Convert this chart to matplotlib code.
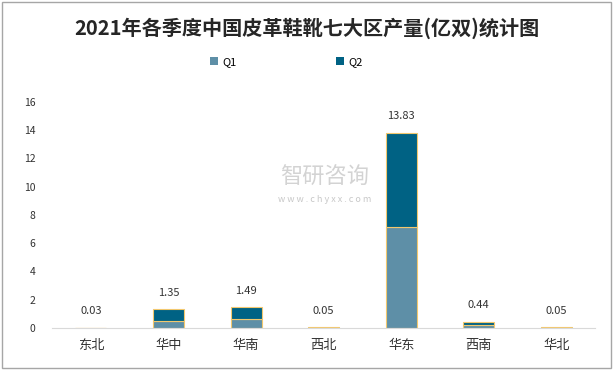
import numpy as np
import matplotlib.pyplot as plt
from matplotlib.patches import Rectangle, Patch

plt.rcParams['font.family'] = ['Noto Sans CJK SC', 'DejaVu Sans']

regions = ['东北', '华中', '华南', '西北', '华东', '西南', '华北']
q1 = [0.015, 0.52, 0.66, 0.025, 7.14, 0.21, 0.025]
q2 = [0.015, 0.83, 0.83, 0.025, 6.69, 0.23, 0.025]
totals = ['0.03', '1.35', '1.49', '0.05', '13.83', '0.44', '0.05']

c1 = '#5E8FA7'
c2 = '#006284'

fig = plt.figure(figsize=(6.13, 3.70), dpi=100)
ax = fig.add_axes([0.085, 0.1135, 0.886, 0.611])

x = np.arange(len(regions))
w = 0.4
edge = '#F2C86E'
ax.bar(x, q1, w, color=c1, edgecolor=edge, linewidth=0.8)
ax.bar(x, q2, w, bottom=q1, color=c2, edgecolor=edge, linewidth=0.8)

for i, t in enumerate(totals):
    top = q1[i] + q2[i]
    ax.text(x[i], top + 0.8, t, ha='center', va='bottom', fontsize=8, color='#333333')

ax.set_xlim(-0.5, len(regions) - 0.5)
ax.set_ylim(0, 16)
ax.set_yticks(range(0, 17, 2))
ax.set_xticks(x)
ax.set_xticklabels(regions, fontsize=9.5, color='#333333')
ax.tick_params(axis='y', labelsize=7.5, colors='#333333', length=0, pad=12)
ax.tick_params(axis='x', length=0, pad=8)
for s in ['top', 'right', 'left']:
    ax.spines[s].set_visible(False)
ax.spines['bottom'].set_color('#D9D9D9')

fig.text(0.5, 0.925, '2021年各季度中国皮革鞋靴七大区产量(亿双)统计图', ha='center', va='center',
         fontsize=14.5, fontweight='bold', color='#262626')

handles = [Patch(facecolor=c1, edgecolor='none'), Patch(facecolor=c2, edgecolor='none')]
fig.legend(handles, ['Q1', 'Q2'], loc='center', bbox_to_anchor=(0.467, 0.832), ncol=2, frameon=False,
           fontsize=8, handlelength=0.7, handleheight=0.7, columnspacing=9, handletextpad=0.4)

# watermark
fig.text(0.53, 0.52, '智研咨询', ha='center', va='center', fontsize=16, color='#C8C8C8', alpha=0.8)
fig.text(0.53, 0.462, 'w w w . c h y x x . c o m', ha='center', va='center', fontsize=6.5, color='#C8C8C8')

fig.patches.append(Rectangle((0.003, 0.005), 0.994, 0.99, transform=fig.transFigure,
                             fill=False, edgecolor='#A6A6A6', linewidth=1))

fig.savefig('out.png', dpi=100)
